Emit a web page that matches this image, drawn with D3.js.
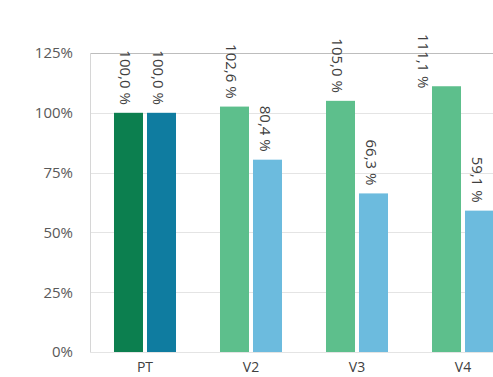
<!DOCTYPE html>
<html>
<head>
<meta charset="utf-8">
<script src="https://cdn.jsdelivr.net/npm/d3@7"></script>
<style>
  body { margin: 0; background: #fff; }
  text { font-family: "Open Sans", "Noto Sans", sans-serif; }
</style>
</head>
<body>
<script>
var width = 493,
    height = 377;

// data
var categories = ["PT", "V2", "V3", "V4"];
var seriesA = [100.0, 102.6, 105.0, 111.1];
var seriesB = [100.0, 80.4, 66.3, 59.1];
var yTicks = [0, 25, 50, 75, 100, 125];

var colorsA = ["#0c7f4f", "#5dbf8c", "#5dbf8c", "#5dbf8c"];
var colorsB = ["#0f7ca0", "#6cbbde", "#6cbbde", "#6cbbde"];

var svg = d3.select("body").append("svg")
    .attr("width", width)
    .attr("height", height);

var y = d3.scaleLinear().domain([0, 125]).range([352, 53]);

var x0 = d3.scaleBand()
    .domain(categories)
    .range([70, 538])
    .paddingInner(0.415)
    .paddingOuter(0.415);

var x1 = d3.scaleBand()
    .domain([0, 1])
    .range([0, x0.bandwidth()])
    .paddingInner(0.121);

// gridlines
svg.append("g")
  .selectAll("line")
  .data(yTicks)
  .enter().append("line")
    .attr("x1", 90)
    .attr("x2", width)
    .attr("y1", function (d) { return Math.round(y(d)) + 0.5; })
    .attr("y2", function (d) { return Math.round(y(d)) + 0.5; })
    .attr("stroke", function (d) { return d === 125 ? "#bdbdbd" : "#e4e4e4"; })
    .attr("stroke-width", 1);

// y axis line
svg.append("line")
    .attr("x1", 90.5).attr("x2", 90.5)
    .attr("y1", y(125)).attr("y2", y(0))
    .attr("stroke", "#d6d6d6");

// y tick labels
var yAxis = d3.axisLeft(y)
    .tickValues(yTicks)
    .tickSize(0)
    .tickPadding(0)
    .tickFormat(function (d) { return d + "%"; });

var gy = svg.append("g")
    .attr("transform", "translate(73,0)")
    .call(yAxis);
gy.select(".domain").remove();
gy.selectAll("text")
    .attr("font-size", 15)
    .attr("fill", "#595959")
    .style("font-family", "'Open Sans', sans-serif");

var rows = categories.map(function (c, i) {
  return [
    { cat: c, s: 0, v: seriesA[i], color: colorsA[i] },
    { cat: c, s: 1, v: seriesB[i], color: colorsB[i] }
  ];
});
var flat = [].concat.apply([], rows);

// bars
svg.append("g")
  .selectAll("rect")
  .data(flat)
  .enter().append("rect")
    .attr("x", function (d) { return x0(d.cat) + x1(d.s); })
    .attr("y", function (d) { return y(d.v); })
    .attr("width", x1.bandwidth())
    .attr("height", function (d) { return y(0) - y(d.v); })
    .attr("fill", function (d) { return d.color; });

// value labels, rotated to read top to bottom
var fmt = function (v) { return v.toFixed(1).replace(".", ",") + " %"; };
var labels = svg.append("g")
  .selectAll("text")
  .data(flat)
  .enter().append("text")
    .attr("font-size", 15)
    .attr("fill", "#404040")
    .text(function (d) { return fmt(d.v); });

labels.each(function (d) {
  var t = d3.select(this);
  var len = this.getComputedTextLength();
  var cx = x0(d.cat) + x1(d.s) + x1.bandwidth() / 2 - 3;
  var top = y(d.v) - 8 - len;
  if (top < 34) {
    top = 34;
    if (top + len > y(d.v) - 2) cx -= 0.7 * x1.bandwidth();
  }
  t.attr("transform", "translate(" + (cx - 5) + "," + top + ") rotate(90)");
});

// category labels
svg.append("g")
  .selectAll("text")
  .data(categories)
  .enter().append("text")
    .attr("x", function (d) { return x0(d) + x0.bandwidth() / 2; })
    .attr("y", 372)
    .attr("text-anchor", "middle")
    .attr("font-size", 14)
    .attr("fill", "#404040")
    .text(function (d) { return d; });
</script>
</body>
</html>
